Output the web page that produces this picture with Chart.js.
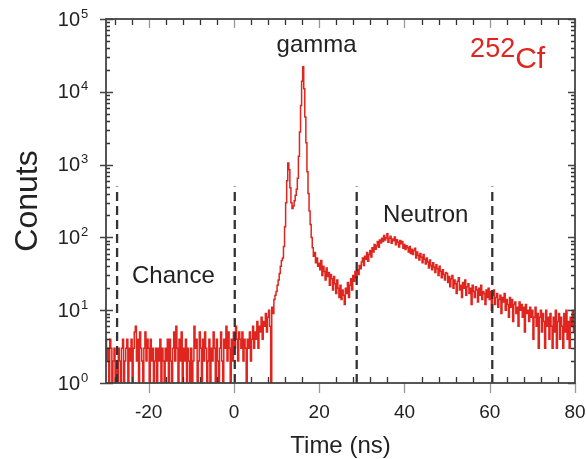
<!DOCTYPE html>
<html>
<head>
<meta charset="utf-8">
<script src="https://cdn.jsdelivr.net/npm/chart.js@4.4.1/dist/chart.umd.min.js"></script>
<style>
  html, body { margin: 0; padding: 0; background: #fff; }
  #wrap { width: 586px; height: 459px; position: relative; }
</style>
</head>
<body>
<div id="wrap"><canvas id="chart" width="586" height="459"></canvas></div>
<script>
// time histogram, 0.25 ns bins starting at -30 ns
const binStart = -30;
const binWidth = 0.25;

// -30 .. -0.25 ns (chance background)
const chanceCounts = [
  4, 2, 3, 1, 4, 3, 1, 2, 3, 1, 2, 1, 3, 2, 1, 3, 4, 1, 2, 3,
  4, 1, 3, 2, 4, 1, 3, 5, 6, 2, 4, 1, 5, 3, 2, 1, 3, 5, 2, 4,
  3, 1, 4, 2, 3, 1, 2, 3, 1, 3, 2, 4, 1, 3, 2, 1, 3, 2, 4, 1,
  4, 2, 1, 3, 5, 2, 6, 3, 1, 4, 2, 5, 1, 3, 2, 4, 1, 3, 2, 1,
  3, 1, 2, 6, 3, 4, 1, 2, 5, 3, 1, 4, 2, 5, 3, 1, 2, 4, 1, 3,
  2, 5, 3, 1, 4, 2, 1, 3, 5, 2, 1, 4, 3, 6, 2, 5, 3, 1, 4, 2
];
// 0 .. 9.75 ns
const riseCounts = [
  5, 3, 6, 4, 2, 5, 4, 3, 5, 2, 4, 3, 1, 4, 3, 5, 2, 4, 6, 3,
  5, 4, 7, 3, 6, 5, 8, 4, 7, 6, 9, 5, 8, 10, 6, 1, 11, 9, 14, 16
];
// 10 .. 19.75 ns (prompt gamma peaks)
const gammaCounts = [
  18, 22, 26, 32, 40, 48, 52, 75, 140, 300, 600, 1050, 850, 480, 300, 250, 270, 320, 380, 460,
  650, 1300, 2800, 6500, 14000, 22000, 11000, 4500, 2000, 800, 400, 230, 150, 100, 72, 55, 62, 45, 52, 40
];
// 20 .. 29.75 ns
const valleyCounts = [
  44, 36, 48, 30, 40, 34, 26, 38, 29, 33, 22, 31, 27, 19, 29, 23, 17, 26, 20, 15,
  22, 14, 19, 16, 12, 20, 17, 24, 15, 22, 27, 19, 30, 25, 34, 28, 36, 31, 41, 37
];
// 30 .. 49.75 ns (fission neutrons)
const neutronCounts = [
  46, 52, 41, 55, 50, 62, 47, 58, 66, 54, 72, 63, 80, 69, 77, 88, 73, 92, 84, 97,
  88, 106, 92, 99, 112, 86, 97, 104, 83, 95, 90, 101, 79, 93, 86, 74, 91, 82, 88, 71,
  80, 68, 77, 72, 63, 75, 60, 69, 58, 66, 71, 52, 63, 57, 49, 60, 54, 45, 58, 50,
  43, 52, 46, 38, 49, 41, 36, 45, 39, 33, 42, 37, 30, 40, 34, 28, 36, 31, 26, 33
];
// 50 .. 80 ns
const tailCounts = [
  32, 24, 29, 21, 27, 30, 20, 26, 23, 17, 25, 28, 19, 22, 15, 24, 20, 26, 16, 21,
  23, 17, 20, 12, 22, 18, 15, 21, 19, 13, 20, 16, 22, 14, 18, 17, 12, 19, 15, 20,
  14, 18, 10, 16, 19, 12, 15, 17, 11, 14, 16, 9, 15, 13, 17, 10, 14, 12, 8, 15,
  11, 14, 7, 12, 13, 9, 11, 6, 13, 10, 12, 8, 11, 5, 12, 9, 10, 7, 11, 8,
  10, 4, 8, 11, 6, 9, 3, 8, 10, 5, 9, 7, 3, 10, 6, 8, 4, 9, 6, 3,
  8, 5, 10, 3, 7, 9, 4, 8, 6, 3, 9, 5, 10, 4, 7, 3, 8, 6, 10, 5,
  7
];

const xTickValues = [-20, 0, 20, 40, 60, 80];
const xTickLabels = ['-20', '0', '20', '40', '60', '80'];
const yTickValues = [1, 10, 100, 1000, 10000, 100000];
const yTickExponents = ['0', '1', '2', '3', '4', '5'];

// time windows (dashed gates)
const gateTimes = [-27.4, 0.2, 28.8, 60.6];
const gateTop = 500;

const regionNames = ['Chance', 'gamma', 'Neutron'];
const regionX = [-14.2, 19.4, 45.0];
const regionY = [24, 35000, 165];

const counts = [].concat(chanceCounts, riseCounts, gammaCounts, valleyCounts, neutronCounts, tailCounts);
const spectrum = counts.map((c, i) => ({x: binStart + i * binWidth, y: c}));

const FONT = "'Liberation Sans', Arial, sans-serif";
const RED = '#e0251f';
const INK = '#222';

const xMinor = [];
for (let v = -28; v < 80; v += 4) if (v % 20 !== 0) xMinor.push(v);
const yMinor = [];
for (let k = 0; k < 5; k++) for (let m = 2; m <= 9; m++) yMinor.push(m * Math.pow(10, k));

const decor = {
  id: 'decor',
  afterDatasetsDraw(chart) {
    const {ctx, chartArea: a, scales: {x, y}} = chart;
    ctx.save();

    // minor ticks, pointing inward
    ctx.strokeStyle = '#333';
    ctx.lineWidth = 1.3;
    ctx.beginPath();
    xMinor.forEach(v => {
      const px = Math.round(x.getPixelForValue(v)) + 0.5;
      ctx.moveTo(px, a.bottom); ctx.lineTo(px, a.bottom - 6);
      ctx.moveTo(px, a.top); ctx.lineTo(px, a.top + 6);
    });
    yMinor.forEach(v => {
      const py = Math.round(y.getPixelForValue(v)) + 0.5;
      ctx.moveTo(a.left, py); ctx.lineTo(a.left + 4, py);
      ctx.moveTo(a.right, py); ctx.lineTo(a.right - 4, py);
    });
    ctx.stroke();

    // major ticks
    ctx.strokeStyle = '#999';
    ctx.lineWidth = 1.3;
    ctx.beginPath();
    xTickValues.forEach(v => {
      const px = Math.round(x.getPixelForValue(v)) + 0.5;
      ctx.moveTo(px, a.bottom); ctx.lineTo(px, a.bottom + 10);
      ctx.moveTo(px, a.top); ctx.lineTo(px, a.top + 9);
    });
    ctx.stroke();
    ctx.strokeStyle = '#444';
    ctx.beginPath();
    yTickValues.forEach(v => {
      const py = Math.round(y.getPixelForValue(v)) + 0.5;
      ctx.moveTo(a.left - 6, py); ctx.lineTo(a.left + 7, py);
      ctx.moveTo(a.right, py); ctx.lineTo(a.right - 7, py);
    });
    ctx.stroke();

    // frame
    ctx.strokeStyle = '#444';
    ctx.lineWidth = 1.8;
    ctx.strokeRect(a.left, a.top, a.right - a.left, a.bottom - a.top);

    // y tick labels 10^n
    ctx.fillStyle = INK;
    ctx.textBaseline = 'middle';
    yTickValues.forEach((v, i) => {
      const py = y.getPixelForValue(v);
      ctx.font = '20px ' + FONT;
      ctx.textAlign = 'right';
      ctx.fillText('10', 80, py + 1);
      ctx.font = '13px ' + FONT;
      ctx.textAlign = 'left';
      ctx.fillText(yTickExponents[i], 81, py - 5);
    });

    // region labels
    ctx.font = '24px ' + FONT;
    ctx.textAlign = 'center';
    ctx.textBaseline = 'alphabetic';
    regionNames.forEach((t, i) => {
      ctx.fillText(t, x.getPixelForValue(regionX[i]), y.getPixelForValue(regionY[i]));
    });

    // isotope tag
    ctx.fillStyle = RED;
    ctx.textAlign = 'left';
    const tx = x.getPixelForValue(55.4);
    ctx.font = '27px ' + FONT;
    ctx.fillText('252', tx, y.getPixelForValue(30000));
    const w = ctx.measureText('252').width;
    ctx.font = '30px ' + FONT;
    ctx.fillText('Cf', tx + w, y.getPixelForValue(21200));

    ctx.restore();
  }
};

const datasets = [{
  data: spectrum,
  borderColor: RED,
  borderWidth: 1.5,
  pointRadius: 0,
  stepped: 'middle',
  order: 1
}];
gateTimes.forEach(t => {
  datasets.push({
    data: [{x: t, y: 1}, {x: t, y: gateTop}],
    borderColor: '#333',
    borderWidth: 2.3,
    borderDash: [9, 5],
    pointRadius: 0,
    order: 0
  });
});

new Chart(document.getElementById('chart'), {
  type: 'line',
  data: {datasets},
  plugins: [decor],
  options: {
    responsive: false,
    animation: false,
    layout: {padding: {top: 19, right: 11, left: 0, bottom: 0}},
    plugins: {legend: {display: false}, tooltip: {enabled: false}},
    scales: {
      x: {
        type: 'linear',
        min: -30,
        max: 80,
        grid: {display: false, drawTicks: false},
        border: {display: false},
        afterBuildTicks: s => { s.ticks = xTickValues.map(v => ({value: v})); },
        afterFit: s => { s.height = 76; s.paddingLeft = 0; s.paddingRight = 0; },
        ticks: {
          padding: 18,
          color: INK,
          font: {family: FONT, size: 19},
          callback: (v, i) => xTickLabels[i]
        },
        title: {
          display: true,
          text: 'Time (ns)',
          color: INK,
          font: {family: FONT, size: 24, lineHeight: 0.85},
          padding: {top: 0, bottom: 2}
        }
      },
      y: {
        type: 'logarithmic',
        min: 1,
        max: 100000,
        grid: {display: false, drawTicks: false},
        border: {display: false},
        ticks: {display: false},
        afterFit: s => { s.width = 106; s.paddingTop = 0; s.paddingBottom = 0; },
        title: {
          display: true,
          text: 'Conuts',
          color: INK,
          font: {family: FONT, size: 32, lineHeight: 1},
          padding: {top: 12, bottom: 0}
        }
      }
    }
  }
});
</script>
</body>
</html>
